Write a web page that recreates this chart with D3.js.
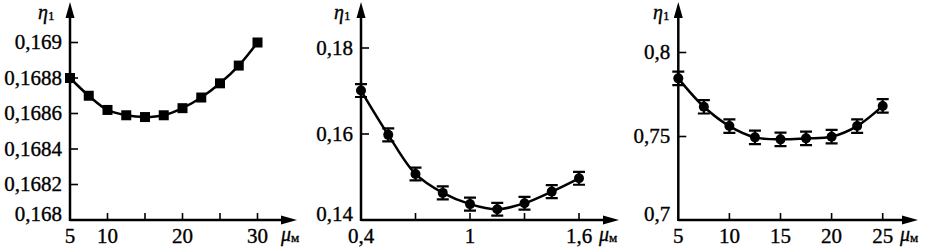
<!DOCTYPE html>
<html>
<head>
<meta charset="utf-8">
<script src="https://cdn.jsdelivr.net/npm/d3@7"></script>
<style>
  body { margin: 0; background: #fff; }
  svg { display: block; }
</style>
</head>
<body>
<div id="chart"></div>
<script>
// panel 1 (squares, no error bars)
let mu1 = [5, 7.5, 10, 12.5, 15, 17.5, 20, 22.5, 25, 27.5, 30];
let eta1 = [0.16880, 0.16870, 0.16862, 0.16859, 0.16858, 0.16859, 0.16863, 0.16869, 0.16877, 0.16887, 0.16900];
let ticks1x = [5, 10, 15, 20, 25, 30];
let labels1x = ["5", "10", "", "20", "", "30"];
let ticks1y = [0.168, 0.1682, 0.1684, 0.1686, 0.1688, 0.169];
let labels1y = ["0,168", "0,1682", "0,1684", "0,1686", "0,1688", "0,169"];

// panel 2 (circles with error bars)
let mu2 = [0.4, 0.55, 0.7, 0.85, 1.0, 1.15, 1.3, 1.45, 1.6];
let eta2 = [0.1701, 0.1598, 0.1507, 0.1463, 0.1437, 0.1425, 0.1439, 0.1466, 0.1497];
let err2 = 0.0015;
let ticks2x = [0.4, 0.7, 1.0, 1.3, 1.6];
let labels2x = ["0,4", "", "1", "", "1,6"];
let ticks2y = [0.14, 0.16, 0.18];
let labels2y = ["0,14", "0,16", "0,18"];

// panel 3 (circles with error bars)
let mu3 = [5, 7.5, 10, 12.5, 15, 17.5, 20, 22.5, 25];
let eta3 = [0.7846, 0.7677, 0.7562, 0.7495, 0.7483, 0.7489, 0.7499, 0.7562, 0.7682];
let err3 = 0.004;
let ticks3x = [5, 10, 15, 20, 25];
let labels3x = ["5", "10", "15", "20", "25"];
let ticks3y = [0.7, 0.75, 0.8];
let labels3y = ["0,7", "0,75", "0,8"];

let W = 926, H = 248;
let fontSize = 21;
let serif = "Liberation Serif";

let svg = d3.select("#chart").append("svg")
    .attr("width", W)
    .attr("height", H);

let panels = [
  {mu: mu1, eta: eta1, err: 0, marker: "square",
   xDom: [5, 30], xRange: [70, 257.5], yDom: [0.168, 0.169], yRange: [220, 42.5],
   xEnd: 297, tx: ticks1x, lx: labels1x, ty: ticks1y, ly: labels1y,
   etaX: 38, muX: 281},
  {mu: mu2, eta: eta2, err: err2, marker: "circle",
   xDom: [0.4, 1.6], xRange: [361, 579], yDom: [0.14, 0.18], yRange: [220, 48],
   xEnd: 619, tx: ticks2x, lx: labels2x, ty: ticks2y, ly: labels2y,
   etaX: 334, muX: 599},
  {mu: mu3, eta: eta3, err: err3, marker: "circle",
   xDom: [5, 25], xRange: [678.3, 882.7], yDom: [0.7, 0.8], yRange: [220.5, 52.5],
   xEnd: 918, tx: ticks3x, lx: labels3x, ty: ticks3y, ly: labels3y,
   etaX: 653, muX: 900}
];

panels.forEach(drawPanel);

function addText(sel, size) {
  return sel.append("text")
    .attr("font-family", serif)
    .attr("font-size", size)
    .attr("fill", "#000")
    .attr("stroke", "#000")
    .attr("stroke-width", 0.35);
}

function drawPanel(p) {
  let g = svg.append("g");
  let x = d3.scaleLinear().domain(p.xDom).range(p.xRange);
  let y = d3.scaleLinear().domain(p.yDom).range(p.yRange);
  let x0 = p.xRange[0], y0 = 220;

  // axes lines
  g.append("line").attr("x1", x0).attr("x2", p.xEnd - 10).attr("y1", y0).attr("y2", y0)
    .attr("stroke", "#000").attr("stroke-width", 2.5);
  g.append("line").attr("x1", x0).attr("x2", x0).attr("y1", y0 + 1).attr("y2", 12)
    .attr("stroke", "#000").attr("stroke-width", 2.5);
  // arrow heads
  g.append("path")
    .attr("d", `M${p.xEnd},${y0} L${p.xEnd - 16},${y0 - 4.5} L${p.xEnd - 16},${y0 + 4.5} Z`)
    .attr("fill", "#000");
  g.append("path")
    .attr("d", `M${x0},2 L${x0 - 4.5},18 L${x0 + 4.5},18 Z`)
    .attr("fill", "#000");

  // ticks pointing inward
  p.tx.forEach((t, i) => {
    if (i > 0) {
      g.append("line").attr("x1", x(t)).attr("x2", x(t)).attr("y1", y0).attr("y2", y0 - 7)
        .attr("stroke", "#000").attr("stroke-width", 1.6);
    }
    addText(g, fontSize).attr("x", x(t)).attr("y", 243)
      .attr("text-anchor", "middle").text(p.lx[i]);
  });
  p.ty.forEach((t, i) => {
    if (i > 0) {
      g.append("line").attr("x1", x0).attr("x2", x0 + 8).attr("y1", y(t)).attr("y2", y(t))
        .attr("stroke", "#000").attr("stroke-width", 1.6);
    }
    let ly = i === 0 ? y0 + 1 : y(t) + 6.5;
    addText(g, fontSize).attr("x", x0 - 8).attr("y", ly)
      .attr("text-anchor", "end").text(p.ly[i]);
  });

  // curve
  let pts = p.mu.map((m, i) => [x(m), y(p.eta[i])]);
  g.append("path")
    .attr("d", d3.line().curve(d3.curveCatmullRom.alpha(0.5))(pts))
    .attr("fill", "none").attr("stroke", "#000").attr("stroke-width", 2.5);

  // error bars
  if (p.err > 0) {
    p.mu.forEach((m, i) => {
      let yt = y(p.eta[i] + p.err), yb = y(p.eta[i] - p.err), cx = x(m);
      g.append("path")
        .attr("d", `M${cx - 6},${yt} H${cx + 6} M${cx},${yt} V${yb} M${cx - 6},${yb} H${cx + 6}`)
        .attr("stroke", "#000").attr("stroke-width", 2.2).attr("fill", "none");
    });
  }

  // markers
  if (p.marker === "square") {
    g.selectAll("rect.pt").data(pts).enter().append("rect")
      .attr("x", d => d[0] - 5).attr("y", d => d[1] - 5)
      .attr("width", 10).attr("height", 10).attr("fill", "#000");
  } else {
    g.selectAll("circle.pt").data(pts).enter().append("circle")
      .attr("cx", d => d[0]).attr("cy", d => d[1]).attr("r", 5).attr("fill", "#000");
  }

  // axis titles
  let et = addText(g, 20).attr("x", p.etaX).attr("y", 18.5);
  et.append("tspan").attr("font-style", "italic").text("η");
  et.append("tspan").attr("dy", 1).attr("font-size", 13).text("1");

  let mt = addText(g, 20).attr("x", p.muX).attr("y", 241);
  mt.append("tspan").attr("font-style", "italic").text("μ");
  mt.append("tspan").attr("dy", 1).attr("font-size", 13).text("м");
}
</script>
</body>
</html>
